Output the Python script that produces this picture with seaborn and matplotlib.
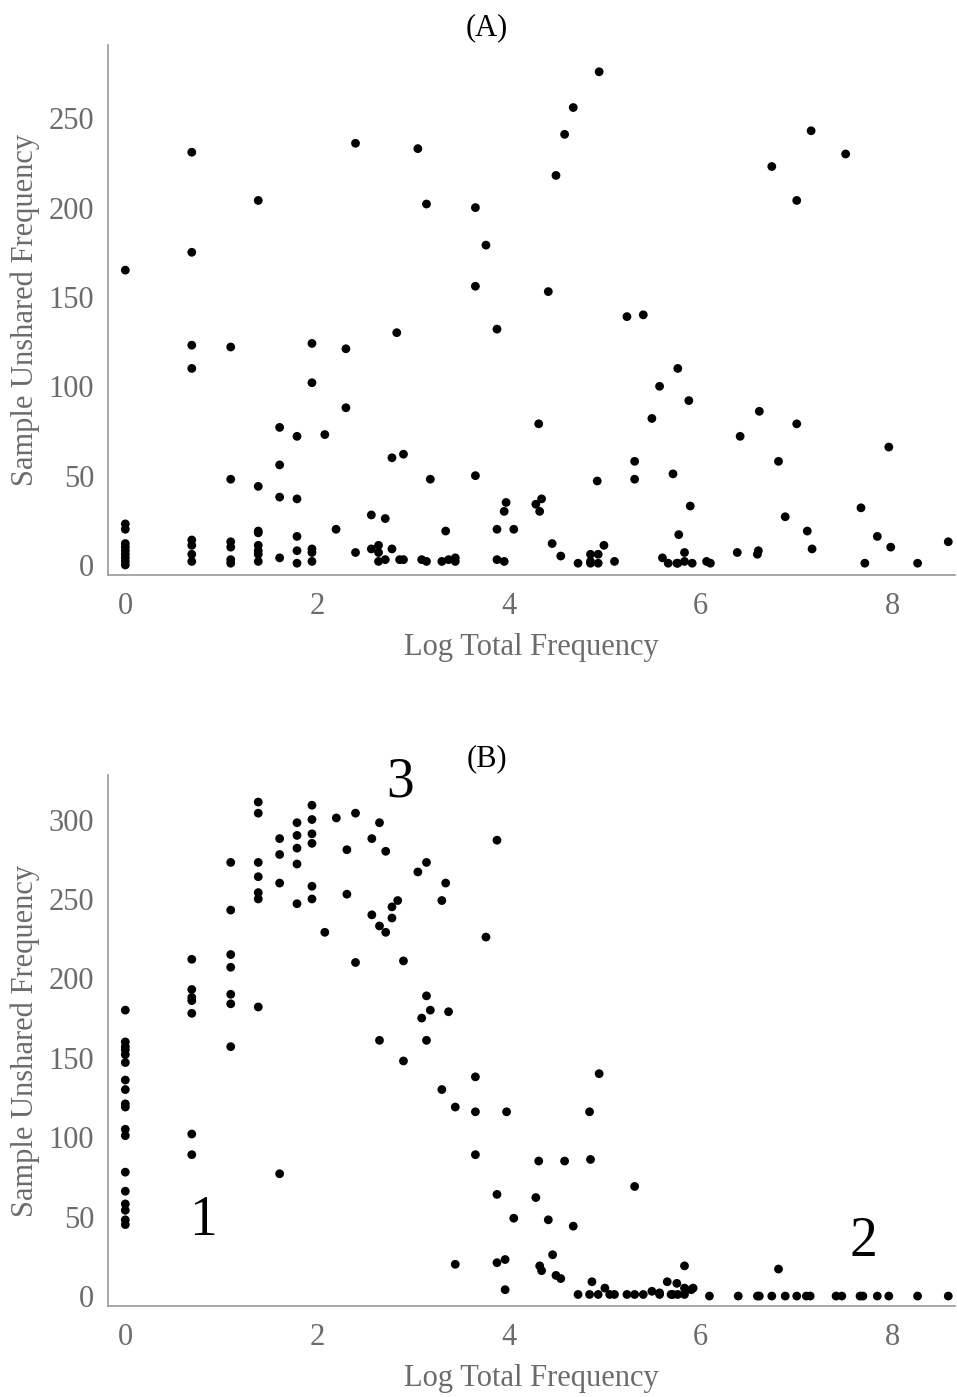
import numpy as np
import pandas as pd
import matplotlib
matplotlib.use("Agg")
import matplotlib.pyplot as plt
from matplotlib.ticker import MultipleLocator
import seaborn as sns

sns.set_style("white")
plt.rcParams.update({
    "font.family": ["Liberation Serif", "DejaVu Serif"],
    "xtick.direction": "in",
    "ytick.direction": "in",
})

# Panel A: log total frequency vs sample unshared frequency
a_logfreq = [
    0, 0, 0, 0, 0, 0, 0, 0, 0, 0,
    0.693, 0.693, 0.693, 0.693, 0.693, 0.693, 0.693, 0.693,
    1.099, 1.099, 1.099, 1.099, 1.099, 1.099,
    1.386, 1.386, 1.386, 1.386, 1.386, 1.386, 1.386, 1.386,
    1.609, 1.609, 1.609, 1.609,
    1.79, 1.79, 1.79, 1.79, 1.79,
    1.946, 1.946, 1.946, 1.946, 1.946,
    2.08, 2.197, 2.30, 2.30, 2.40, 2.40, 2.565, 2.565,
    2.64, 2.64, 2.64, 2.71, 2.71, 2.78, 2.78, 2.83, 2.86, 2.90, 2.90,
    3.05, 3.09, 3.14, 3.14, 3.18, 3.30, 3.34, 3.37, 3.44, 3.44,
    3.65, 3.65, 3.65, 3.76, 3.875, 3.875, 3.875, 3.95, 3.95, 3.97, 4.05,
    4.28, 4.31, 4.32, 4.34, 4.41, 4.45, 4.49, 4.54, 4.58, 4.67, 4.72,
    4.85, 4.85, 4.85, 4.92, 4.94, 4.93, 4.93, 4.99, 5.10,
    5.23, 5.31, 5.31, 5.40, 5.49, 5.57, 5.60, 5.66, 5.71, 5.75,
    5.76, 5.76, 5.77, 5.83, 5.83, 5.875, 5.89, 5.91, 6.06, 6.10,
    6.38, 6.41, 6.59, 6.60, 6.61, 6.74, 6.81, 6.88, 7.0, 7.0,
    7.11, 7.15, 7.16, 7.51, 7.67, 7.71, 7.84, 7.96, 7.98, 8.26, 8.58,
]
a_unshared = [
    23, 20, 12, 10, 8, 6, 4, 2, 0, 165,
    231, 175, 123, 110, 14, 11, 6, 2,
    122, 48, 13, 10, 3, 1,
    204, 44, 19, 18, 11, 8, 6, 2,
    77, 56, 38, 4,
    72, 37, 16, 8, 1,
    124, 102, 9, 7, 2,
    73, 20, 121, 88, 236, 7, 28, 9,
    11, 7, 2, 26, 3, 60, 9, 130, 3, 62, 3,
    233, 3, 202, 2, 48, 2, 19, 3, 4, 2,
    200, 156, 50, 179, 132, 20, 3, 30, 2, 35, 20,
    34, 79, 30, 37, 153, 12, 218, 5, 241, 256, 1,
    6, 2, 1, 47, 276, 1, 6, 11, 2,
    139, 58, 48, 140, 82, 100, 4, 1, 51, 1,
    110, 1, 17, 2, 7, 92, 33, 1, 2, 1,
    7, 72, 6, 8, 86, 223, 58, 27, 204, 79,
    19, 243, 9, 230, 32, 1, 16, 66, 10, 1, 13,
]

# Panel B
b_logfreq = [
    0, 0, 0, 0, 0, 0, 0, 0, 0, 0, 0, 0, 0, 0, 0, 0, 0, 0,
    0.693, 0.693, 0.693, 0.693, 0.693, 0.693, 0.693,
    1.099, 1.099, 1.099, 1.099, 1.099, 1.099, 1.099,
    1.386, 1.386, 1.386, 1.386, 1.386, 1.386, 1.386,
    1.609, 1.609, 1.609, 1.609,
    1.79, 1.79, 1.79, 1.79, 1.79,
    1.946, 1.946, 1.946, 1.946, 1.946, 1.946,
    2.08, 2.20, 2.31, 2.31, 2.40, 2.40, 2.57, 2.57,
    2.65, 2.65, 2.65, 2.715, 2.715, 2.78, 2.78, 2.84, 2.90, 2.90,
    3.05, 3.09, 3.14, 3.14, 3.14, 3.18, 3.30, 3.30, 3.34, 3.37, 3.44, 3.44,
    3.65, 3.65, 3.65, 3.76, 3.875, 3.875, 3.875, 3.96, 3.96, 3.975, 4.05,
    4.28, 4.31, 4.32, 4.34, 4.41, 4.455, 4.49, 4.54, 4.58, 4.67, 4.72,
    4.84, 4.84, 4.85, 4.865, 4.93, 4.94, 5.0, 5.05, 5.10,
    5.23, 5.31, 5.31, 5.40, 5.49, 5.57, 5.57, 5.65, 5.69, 5.71, 5.75, 5.76,
    5.83, 5.83, 5.83, 5.90, 5.92,
    6.09, 6.39, 6.59, 6.61, 6.74, 6.81, 6.88, 7.0, 7.10, 7.14,
    7.41, 7.47, 7.66, 7.69, 7.84, 7.96, 8.26, 8.58,
]
b_unshared = [
    180, 160, 157, 155, 152, 147, 136, 130, 121, 119, 105, 101, 78, 66, 58, 54, 48, 45,
    212, 193, 188, 186, 178, 102, 89,
    273, 243, 215, 207, 190, 184, 157,
    311, 304, 273, 264, 254, 250, 182,
    288, 278, 260, 77,
    298, 290, 282, 272, 247,
    309, 300, 291, 285, 258, 250,
    229, 301, 281, 253, 304, 210, 288, 240,
    298, 233, 161, 280, 229, 245, 238, 249, 211, 148,
    267, 175, 273, 189, 161, 180, 249, 130, 260, 179, 119, 20,
    138, 116, 89, 226, 287, 64, 21, 23, 4, 116, 49,
    62, 85, 19, 16, 48, 26, 13, 11, 85, 44, 1,
    116, 1, 86, 9, 1, 140, 5, 1, 1,
    1, 69, 1, 1, 3, 1, 2, 9, 1, 1, 8, 1,
    19, 5, 1, 4, 5,
    0, 0, 0, 0, 0, 17, 0, 0, 0, 0,
    0, 0, 0, 0, 0, 0, 0, 0,
]

df_a = pd.DataFrame({"logfreq": a_logfreq, "unshared": a_unshared})
df_b = pd.DataFrame({"logfreq": b_logfreq, "unshared": b_unshared})

label_color = "#6b6b6b"
spine_color = "#9a9a9a"

fig = plt.figure(figsize=(9.57, 13.97), dpi=100)
ax_a = fig.add_axes([0.1129, 0.5884, 0.885, 0.3794])
ax_b = fig.add_axes([0.1129, 0.0651, 0.885, 0.3801])

panels = [
    (ax_a, df_a, (-5.6, 291), "(A)", 0.509, 0.980),
    (ax_b, df_b, (-6.3, 328), "(B)", 0.509, 0.457),
]

for ax, df, ylim, title, tx, ty in panels:
    sns.scatterplot(data=df, x="logfreq", y="unshared", ax=ax,
                    color="black", s=40, edgecolor="none", linewidth=0)
    ax.set_xlim(-0.18, 8.65)
    ax.set_ylim(*ylim)
    ax.xaxis.set_major_locator(MultipleLocator(2))
    ax.xaxis.set_minor_locator(MultipleLocator(0.5))
    ax.yaxis.set_major_locator(MultipleLocator(50))
    ax.yaxis.set_minor_locator(MultipleLocator(10))
    for side in ["top", "right"]:
        ax.spines[side].set_visible(False)
    for side in ["left", "bottom"]:
        ax.spines[side].set_color(spine_color)
        ax.spines[side].set_linewidth(1.2)
    ax.tick_params(which="major", length=5, width=0.8, color=spine_color,
                   labelcolor=label_color, labelsize=22)
    ax.tick_params(which="minor", length=3, width=0.6, color=spine_color)
    ax.tick_params(axis="x", which="major", pad=12)
    ax.tick_params(axis="y", which="major", pad=10)
    ax.set_xlabel("Log Total Frequency", fontsize=22, color=label_color, labelpad=9)
    ax.set_ylabel("Sample Unshared Frequency", fontsize=22, color=label_color, labelpad=6)
    fig.text(tx, ty, title, ha="center", va="center", fontsize=22, color="black")

ax_b.text(2.86, 323, "3", fontsize=40, ha="center", va="center", color="black")
ax_b.text(0.81, 47, "1", fontsize=40, ha="center", va="center", color="black")
ax_b.text(7.70, 34, "2", fontsize=40, ha="center", va="center", color="black")

fig.savefig("out.png", dpi=100)
